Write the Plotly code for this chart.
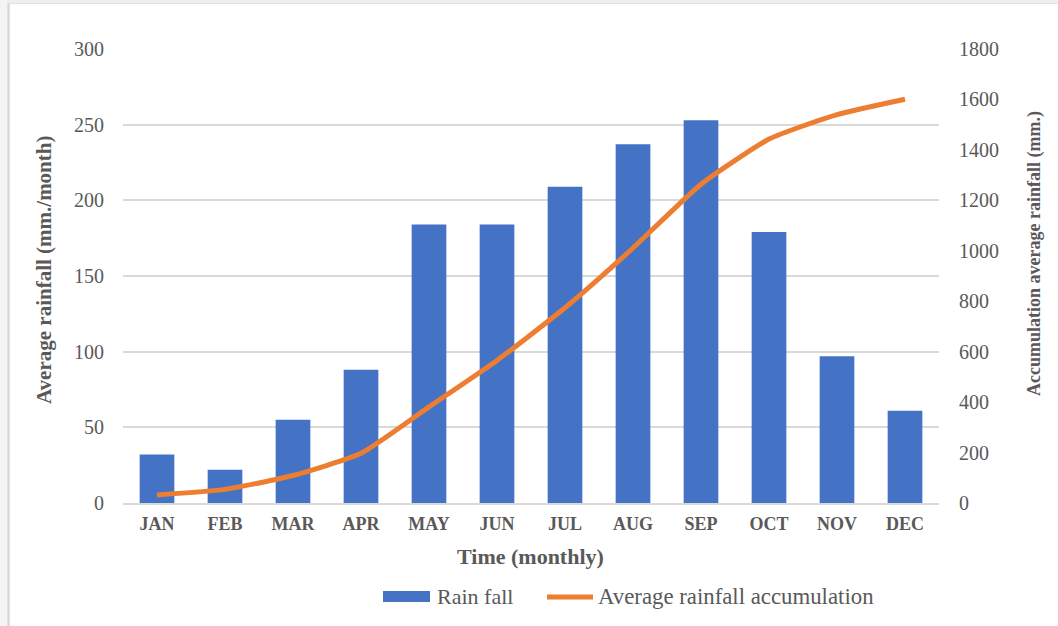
import plotly.graph_objects as go

months = ["JAN", "FEB", "MAR", "APR", "MAY", "JUN", "JUL", "AUG", "SEP", "OCT", "NOV", "DEC"]
rain_fall = [32, 22, 55, 88, 184, 184, 209, 237, 253, 179, 97, 61]
rain_accum = [32, 54, 109, 197, 381, 565, 774, 1011, 1264, 1443, 1540, 1601]

FONT = "Liberation Serif"
GREY = "#595959"
BLUE = "#4472C4"
ORANGE = "#ED7D31"

W, H = 1058, 626
L, R, T, B = 123, 119, 49, 123
PW, PH = W - L - R, H - T - B


def px(x):
    return (x - L) / PW


def py(y):
    return (H - B - y) / PH


fig = go.Figure()
fig.add_trace(go.Bar(x=months, y=rain_fall, name="Rain fall", marker=dict(color=BLUE, line=dict(width=0)),
                     yaxis="y", showlegend=False))
fig.add_trace(go.Scatter(x=months, y=rain_accum, name="Average rainfall accumulation", mode="lines",
                         line=dict(color=ORANGE, width=5, shape="spline", smoothing=0.5),
                         yaxis="y2", showlegend=False))

fig.update_layout(
    width=W, height=H,
    margin=dict(l=L, r=R, t=T, b=B, pad=0),
    paper_bgcolor="white", plot_bgcolor="white",
    bargap=0.49,
    font=dict(family=FONT, color=GREY),
    xaxis=dict(showgrid=False, showline=True, linecolor="#d9d9d9", linewidth=2,
               tickfont=dict(family=FONT, size=18, color=GREY, weight="bold"),
               ticklabelstandoff=3, ticks=""),
    yaxis=dict(range=[0, 300], dtick=50, showgrid=True, gridcolor="#d9d9d9", gridwidth=1.5,
               zeroline=False, showline=False, tickfont=dict(family=FONT, size=20, color=GREY),
               ticklabelstandoff=18, ticks=""),
    yaxis2=dict(range=[0, 1800], dtick=200, overlaying="y", side="right", showgrid=False,
                zeroline=False, showline=False, tickfont=dict(family=FONT, size=20, color=GREY),
                ticklabelstandoff=19, ticks=""),
    showlegend=False,
)

annotations = [
    dict(text="Average rainfall (mm./month)", x=px(44), y=py(270), textangle=-90,
         font=dict(family=FONT, size=21, color=GREY, weight="bold")),
    dict(text="Accumulation average rainfall (mm.)", x=px(1035), y=py(254), textangle=-90,
         font=dict(family=FONT, size=18, color=GREY, weight="bold")),
    dict(text="Time (monthly)", x=px(530), y=py(556),
         font=dict(family=FONT, size=22, color=GREY, weight="bold")),
    dict(text="Rain fall", x=px(435), y=py(596), xanchor="left",
         font=dict(family=FONT, size=22, color=GREY)),
    dict(text="Average rainfall accumulation", x=px(596), y=py(596), xanchor="left",
         font=dict(family=FONT, size=22.8, color=GREY)),
]
for a in annotations:
    a.setdefault("xanchor", "center")
    a.update(xref="paper", yref="paper", yanchor="middle", showarrow=False)
fig.update_layout(annotations=annotations)

shapes = [
    # legend symbols
    dict(type="rect", x0=px(383), x1=px(430), y0=py(602), y1=py(591), fillcolor=BLUE, line=dict(width=0)),
    dict(type="line", x0=px(547), x1=px(593), y0=py(597), y1=py(597), line=dict(color=ORANGE, width=5)),
    # page frame
    dict(type="rect", x0=px(0), x1=px(W), y0=py(4), y1=py(0), fillcolor="#efefef", line=dict(width=0)),
    dict(type="rect", x0=px(0), x1=px(7), y0=py(H), y1=py(0), fillcolor="#f4f4f4", line=dict(width=0)),
    dict(type="line", x0=px(8.5), x1=px(8.5), y0=py(H), y1=py(3), line=dict(color="#d8d8d8", width=2.5)),
    dict(type="line", x0=px(8), x1=px(W), y0=py(3.5), y1=py(3.5), line=dict(color="#e2e2e2", width=1)),
]
for s in shapes:
    s.update(xref="paper", yref="paper", layer="above")
fig.update_layout(shapes=shapes)

fig.write_html("out.html", config={"displayModeBar": False},
               post_script="document.body.style.margin='0';document.body.style.overflow='hidden';")
